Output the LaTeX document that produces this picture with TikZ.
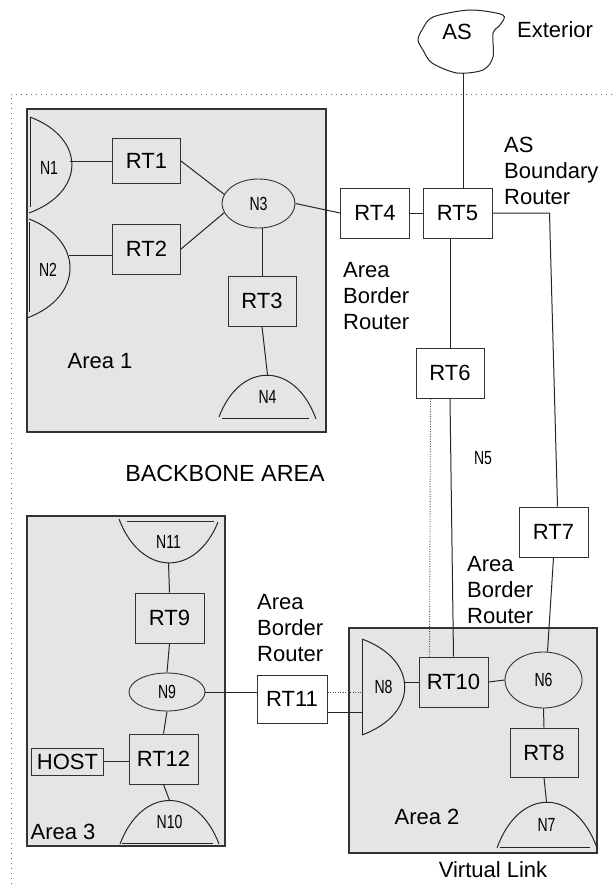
\documentclass[tikz,border=0pt]{standalone}
\usepackage{fontspec}
\setmainfont{Liberation Sans}
\newfontfamily\narrowfont[FakeStretch=0.74]{Liberation Sans}
\usetikzlibrary{shapes.geometric}

\tikzset{
  area/.style={draw=black!80, fill=black!10, line width=1.2bp},
  router/.style={draw=black!80, line width=1bp, minimum width=68bp, minimum height=50bp,
    inner sep=0pt, font=\fontsize{22bp}{26bp}\selectfont},
  net/.style={ellipse, draw=black!80, line width=0.9bp, inner sep=0pt,
    font=\narrowfont\fontsize{19bp}{22bp}\selectfont},
  seg/.style={inner sep=0pt, font=\narrowfont\fontsize{19bp}{22bp}\selectfont},
  lbl/.style={inner sep=0pt, font=\fontsize{22bp}{26bp}\selectfont},
  link/.style={draw=black!85, line width=1bp},
  vlink/.style={draw=black!70, line width=0.9bp, dash pattern=on 1bp off 1.5bp},
  bbone/.style={draw=black!60, line width=1bp, dash pattern=on 1bp off 4bp}
}

\begin{document}
\begin{tikzpicture}[x=1bp,y=-1bp]
    \useasboundingbox (0,0) rectangle (612,887);
    % areas
    \draw[area] (27,109) rectangle (326,432);
    \draw[area] (349,628) rectangle (597,853);
    \draw[area] (27,516) rectangle (225,846);
    \draw[bbone] (612,94) -- (11,94) -- (11,887);
    % exterior
    \draw[link] plot[smooth cycle, tension=0.5] coordinates {(433,17) (470,10) (503,15) (500,25) (493,33) (493,57) (483,70) (457,73) (432,63) (423,50) (418,40) (422,30)};
    \node[lbl] (AS) at (457,32) {AS};
    \node[lbl, anchor=west] (ext) at (517,30) {Exterior};
    \coordinate (asfoot) at (463,73);
    % area 1
    \node[seg, minimum width=42bp, minimum height=96bp] (N1) at (49,168) {N1};
    \draw[link] (30,117) .. controls (86,138) and (86,192) .. (29,213);
    \draw[link] (30,117) -- (30,207);
    \node[seg, minimum width=42bp, minimum height=99bp] (N2) at (48,270) {N2};
    \draw[link] (29,219) .. controls (84,240) and (84,297) .. (27,318);
    \draw[link] (29,222) -- (29,312);
    \node[router, minimum height=45bp] (RT1) at (146.5,161) {RT1};
    \node[router] (RT2) at (146.5,249) {RT2};
    \node[net, minimum width=73bp, minimum height=49bp] (N3) at (258.5,203.5) {N3};
    \node[router] (RT3) at (262,301) {RT3};
    \node[seg, minimum width=96bp, minimum height=43bp] (N4) at (267.5,396.5) {N4};
    \draw[link] (219,417) .. controls (240,361) and (295,361) .. (316,419);
    \draw[link] (222,418) -- (309,418);
    \node[lbl] (a1) at (100,361) {Area 1};
    % backbone
    \node[router, minimum width=69bp] (RT4) at (375,213) {RT4};
    \node[router, minimum width=69bp] (RT5) at (457.5,213) {RT5};
    \node[router] (RT6) at (450,373) {RT6};
    \node[router, minimum width=69bp] (RT7) at (553.5,532) {RT7};
    \node[seg] (N5) at (483,458) {N5};
    \node[lbl, font=\fontsize{23.3bp}{26bp}\selectfont] (bb) at (225,473) {BACKBONE AREA};
    \node[lbl, anchor=west, align=left] (asbr) at (504,171) {AS\\Boundary\\Router};
    \node[lbl, anchor=west, align=left] (abr1) at (343,296) {Area\\Border\\Router};
    \node[lbl, anchor=west, align=left] (abr2) at (467,590) {Area\\Border\\Router};
    \node[lbl, anchor=west, align=left] (abr3) at (257,628) {Area\\Border\\Router};
    % area 2
    \node[seg, minimum width=43bp, minimum height=96bp] (N8) at (383.5,687) {N8};
    \draw[link] (362,639) .. controls (419,660) and (419,714) .. (362,735);
    \draw[link] (362,639) -- (362,735);
    \node[router, minimum width=69bp] (RT10) at (453.5,682) {RT10};
    \node[net, minimum width=77bp, minimum height=56bp] (N6) at (543.5,680) {N6};
    \node[router, minimum height=49bp] (RT8) at (544,752.5) {RT8};
    \node[seg, minimum width=100bp, minimum height=46bp] (N7) at (546.5,825) {N7};
    \draw[link] (497,848) .. controls (519,787) and (575,787) .. (597,848);
    \draw[link] (500,847) -- (590,847);
    \node[lbl] (a2) at (427,817) {Area 2};
    \node[lbl] (vl) at (493,870) {Virtual Link};
    % area 3
    \node[seg, minimum width=99bp, minimum height=42bp] (N11) at (168.5,542) {N11};
    \draw[link] (119,519) .. controls (141,577) and (196,577) .. (218,522);
    \draw[link] (127,521) -- (214,521);
    \node[router, minimum width=69bp] (RT9) at (169.5,618) {RT9};
    \node[net, minimum width=76bp, minimum height=38bp] (N9) at (167,692) {N9};
    \node[router, minimum width=70bp, minimum height=48bp] (RT11) at (292,699) {RT11};
    \node[router, minimum width=69bp] (RT12) at (163.5,759) {RT12};
    \node[router, minimum width=71bp, minimum height=27bp] (HOST) at (67.5,761.5) {HOST};
    \node[seg, minimum width=99bp, minimum height=43bp] (N10) at (169.5,822) {N10};
    \draw[link] (120,844) .. controls (142,786) and (197,786) .. (219,844);
    \draw[link] (122,843) -- (213,843);
    \node[lbl] (a3) at (63,832) {Area 3};
    % links
    \draw[link] (asfoot) -- (asfoot |- RT5.north);
    \draw[link] (RT1.west) -- (RT1.west -| N1.east);
    \draw[link] ([yshift=-6bp]RT2.west) -- ([yshift=-6bp]RT2.west -| N2.east);
    \draw[link] (RT1.east) -- (N3.165);
    \draw[link] (RT2.east) -- (N3.195);
    \draw[link] (RT3.north) -- (RT3.north |- N3.south);
    \draw[link] (RT3.south) -- (N4.north);
    \draw[link] (N3.east) -- (RT4.west);
    \draw[link] (RT4.east) -- (RT5.west);
    \draw[link] (RT6.north) -- (RT6.north |- RT5.south);
    \draw[link] (RT5.east) -- ++(57,0) coordinate (rt5turn) -- ([xshift=4bp]RT7.north);
    \draw[link] (RT6.south) -- (RT10.north);
    \draw[vlink] ([xshift=15bp]RT6.south west) -- ([xshift=11bp]RT10.north west);
    \draw[link] (RT7.south) -- ([xshift=4bp]N6.north);
    \draw[link] (RT10.west) -- (RT10.west -| N8.east);
    \draw[link] (RT10.east) -- (N6.west);
    \draw[link] (N6.south) -- (RT8.north);
    \draw[link] (RT8.south) -- (N7.north);
    \draw[link] (N11.south) -- (RT9.north);
    \draw[link] (RT9.south) -- (N9.north);
    \draw[link] (N9.south) -- (RT12.north);
    \draw[link] (RT12.south) -- (N10.north);
    \draw[link] (HOST.east) -- (HOST.east -| RT12.west);
    \draw[link] (N9.east) -- (N9.east -| RT11.west);
    \draw[vlink] ([yshift=7bp]RT11.east) -- ([yshift=7bp]RT11.east -| N8.west);
    \draw[link] ([yshift=-13bp]RT11.east) -- ([yshift=-13bp]RT11.east -| N8.west);
\end{tikzpicture}
\end{document}
